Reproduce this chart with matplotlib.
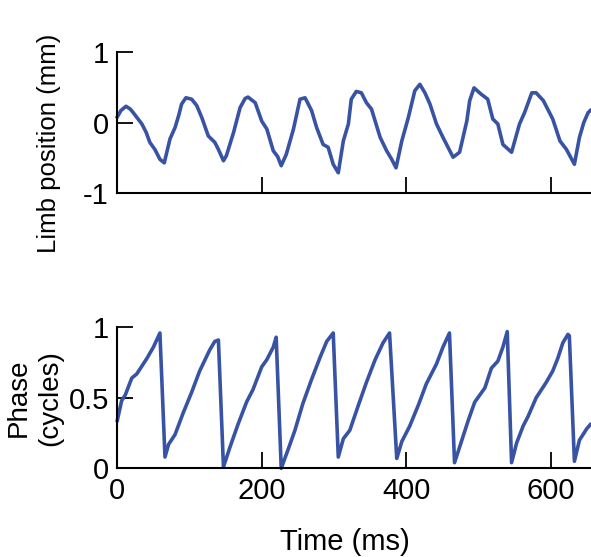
import matplotlib
matplotlib.use("Agg")
import matplotlib.pyplot as plt

plt.rcParams['font.family'] = ['Liberation Sans', 'DejaVu Sans']
plt.rcParams['axes.unicode_minus'] = False

# limb position trace (ms, mm)
pos_t = [0, 5, 12, 18, 22, 28, 34, 40, 45, 52, 59, 65, 69, 73, 80, 85, 89, 95,
         103, 110, 117, 126, 135, 140, 147, 151, 161, 170, 177, 181, 191, 200,
         207, 216, 222, 227, 234, 244, 253, 260, 269, 276, 285, 292, 299, 306,
         313, 320, 324, 331, 338, 345, 352, 364, 373, 380, 386, 394, 403, 412,
         419, 426, 433, 442, 451, 458, 465, 474, 484, 488, 494, 504, 513, 520,
         527, 534, 546, 557, 564, 574, 580, 590, 603, 613, 622, 633, 640, 646,
         652, 655]
pos_y = [0.08, 0.17, 0.23, 0.19, 0.14, 0.06, -0.02, -0.14, -0.28, -0.38, -0.52,
         -0.57, -0.40, -0.23, -0.07, 0.10, 0.26, 0.35, 0.33, 0.24, 0.07, -0.19,
         -0.28, -0.38, -0.54, -0.47, -0.14, 0.21, 0.34, 0.36, 0.28, 0.02, -0.09,
         -0.40, -0.48, -0.61, -0.45, -0.09, 0.33, 0.35, 0.17, -0.07, -0.31,
         -0.35, -0.59, -0.71, -0.26, -0.02, 0.33, 0.44, 0.42, 0.28, 0.19, -0.21,
         -0.40, -0.52, -0.64, -0.26, 0.07, 0.45, 0.54, 0.42, 0.26, -0.02, -0.21,
         -0.35, -0.49, -0.42, 0.02, 0.31, 0.49, 0.40, 0.33, 0.05, -0.02, -0.31,
         -0.42, -0.02, 0.14, 0.42, 0.42, 0.31, 0.05, -0.26, -0.38, -0.59, -0.21,
         0.0, 0.14, 0.17]

# phase trace (ms, cycles)
ph_t = [0, 6, 11, 20, 27, 41, 50, 59, 66, 71, 80, 91, 103, 114, 128, 135, 140,
        147, 156, 167, 179, 188, 200, 207, 216, 220, 227, 237, 246, 257, 269,
        281, 290, 299, 306, 313, 322, 334, 345, 357, 368, 377, 387, 394, 405,
        417, 428, 442, 451, 460, 467, 474, 486, 495, 502, 509, 518, 527, 534,
        540, 546, 553, 562, 569, 580, 594, 603, 610, 617, 624, 626, 633, 640,
        650, 655]
ph_y = [0.34, 0.48, 0.52, 0.64, 0.67, 0.78, 0.86, 0.96, 0.08, 0.17, 0.24, 0.39,
        0.54, 0.69, 0.84, 0.90, 0.91, 0.01, 0.15, 0.31, 0.47, 0.56, 0.72, 0.77,
        0.86, 0.93, 0.0, 0.14, 0.27, 0.46, 0.63, 0.79, 0.90, 0.96, 0.08, 0.21,
        0.27, 0.45, 0.61, 0.77, 0.89, 0.96, 0.07, 0.19, 0.30, 0.45, 0.60, 0.74,
        0.86, 0.96, 0.04, 0.15, 0.34, 0.47, 0.52, 0.57, 0.71, 0.76, 0.86, 0.97,
        0.04, 0.18, 0.30, 0.37, 0.50, 0.61, 0.69, 0.78, 0.89, 0.95, 0.94, 0.05,
        0.20, 0.28, 0.31]

blue = '#3953a4'
tick_fs = 21

fig = plt.figure(figsize=(5.91, 5.57), dpi=100)
ax1 = fig.add_axes([0.1985, 0.653, 0.8015, 0.254])
ax2 = fig.add_axes([0.1985, 0.1592, 0.8015, 0.2531])

ax1.plot(pos_t, pos_y, color=blue, lw=2.6, clip_on=False, solid_joinstyle='round')
ax2.plot(ph_t, ph_y, color=blue, lw=2.6, clip_on=False, solid_joinstyle='round')

for ax in (ax1, ax2):
    ax.set_xlim(0, 656)
    ax.set_xticks([0, 200, 400, 600])
    for s in ('top', 'right'):
        ax.spines[s].set_visible(False)
    for s in ('left', 'bottom'):
        ax.spines[s].set_linewidth(1.5)
    ax.tick_params(direction='in', length=11.5, width=1.3, labelsize=tick_fs, pad=6)

ax1.set_ylim(-1, 1)
ax1.set_yticks([-1, 0, 1])
ax1.set_yticklabels(['-1', '0', '1'])
ax1.set_xticklabels([])
ax1.set_ylabel('Limb position (mm)', fontsize=18.5)
ax1.yaxis.set_label_coords(-0.118, 0.35)

ax2.set_ylim(0, 1)
ax2.set_yticks([0, 0.5, 1])
ax2.set_yticklabels(['0', '0.5', '1'])
ax2.set_ylabel('Phase\n(cycles)', fontsize=20, labelpad=4, linespacing=1.25)
ax2.set_xlabel('Time (ms)', fontsize=21)
ax2.xaxis.set_label_coords(0.48, -0.42)

fig.savefig('out.png', dpi=100)
